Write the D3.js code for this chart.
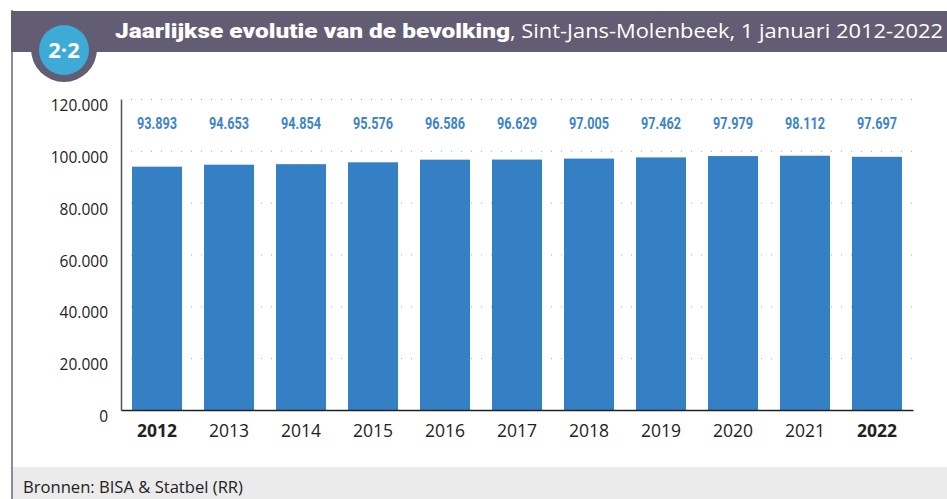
<!DOCTYPE html>
<html>
<head>
<meta charset="utf-8">
<script src="https://cdn.jsdelivr.net/npm/d3@7"></script>
<style>
  body { margin: 0; background: #fff; }
  svg { display: block; }
</style>
</head>
<body>
<div id="chart"></div>
<script>
// data
const years = ["2012","2013","2014","2015","2016","2017","2018","2019","2020","2021","2022"]
const population = [93893, 94653, 94854, 95576, 96586, 96629, 97005, 97462, 97979, 98112, 97697]
const boldYears = ["2012","2022"]
const yTicks = [0, 20000, 40000, 60000, 80000, 100000, 120000]

const W = 947, H = 499
const fmt = d3.format(",")
const nl = v => fmt(v).replace(/,/g, ".")

const svg = d3.select("#chart").append("svg")
  .attr("width", W).attr("height", H)

// footer band
svg.append("rect").attr("x", 12).attr("y", 467).attr("width", W - 12).attr("height", H - 467)
  .attr("fill", "#ebebeb")
svg.append("text").attr("x", 23).attr("y", 493)
  .attr("font-family", "Open Sans").attr("font-size", 16).attr("fill", "#222")
  .attr("textLength", 220).attr("lengthAdjust", "spacingAndGlyphs")
  .text("Bronnen: BISA & Statbel (RR)")

// left frame line
svg.append("line").attr("x1", 12).attr("x2", 12).attr("y1", 10).attr("y2", H)
  .attr("stroke", "#8e8a9a").attr("stroke-width", 2)

// title bar
svg.append("rect").attr("x", 11).attr("y", 11).attr("width", W - 11).attr("height", 41)
  .attr("fill", "#625d72")
svg.append("circle").attr("cx", 64).attr("cy", 49).attr("r", 33).attr("fill", "#625d72")
svg.append("circle").attr("cx", 64).attr("cy", 50).attr("r", 25).attr("fill", "#3eaad6")
svg.append("text").attr("x", 64).attr("y", 58).attr("text-anchor", "middle")
  .attr("font-family", "Open Sans").attr("font-weight", "bold").attr("font-size", 22)
  .attr("fill", "#fff").text("2·2")

const title = svg.append("text").attr("y", 38).attr("fill", "#fff")
title.append("tspan").attr("x", 115)
  .attr("font-family", "Roboto").attr("font-weight", "900").attr("font-size", 21)
  .attr("textLength", 395).attr("lengthAdjust", "spacingAndGlyphs")
  .text("Jaarlijkse evolutie van de bevolking")
title.append("tspan").attr("x", 510)
  .attr("font-family", "Open Sans").attr("font-size", 19.5)
  .attr("textLength", 433).attr("lengthAdjust", "spacingAndGlyphs")
  .text(", Sint-Jans-Molenbeek, 1 januari 2012-2022")

// scales
const x = d3.scaleBand().domain(years).range([121, 913])
  .paddingInner(0.305).paddingOuter(0.153)
const y = d3.scaleLinear().domain([0, 120000]).range([410, 99])

// dotted gridlines
svg.append("g").selectAll("line").data(yTicks.filter(d => d > 0)).enter().append("line")
  .attr("x1", 131).attr("x2", 913)
  .attr("y1", d => y(d) + 0.5).attr("y2", d => y(d) + 0.5)
  .attr("stroke", "#a9a9a9").attr("stroke-width", 1).attr("stroke-dasharray", "1,9")

// bars
svg.append("g").selectAll("rect").data(years).enter().append("rect")
  .attr("x", d => x(d)).attr("width", x.bandwidth())
  .attr("y", (d, i) => y(population[i]))
  .attr("height", (d, i) => y(0) - y(population[i]))
  .attr("fill", "#3580c4")

// value labels
svg.append("g").selectAll("text").data(years).enter().append("text")
  .attr("x", d => x(d) + x.bandwidth() / 2 - 20).attr("y", 129)
  .attr("font-family", "Roboto").attr("font-weight", "bold")
  .attr("font-size", 16).attr("fill", "#3d84c8")
  .attr("textLength", 40).attr("lengthAdjust", "spacingAndGlyphs")
  .text((d, i) => nl(population[i]))

// y axis
const yAxis = svg.append("g").attr("transform", "translate(121,0)")
  .call(d3.axisLeft(y).tickValues(yTicks).tickSize(0).tickPadding(13).tickFormat(nl))
yAxis.select(".domain").attr("stroke", "#555").attr("stroke-width", 1.5)
yAxis.selectAll("text").attr("font-family", "Open Sans").attr("font-size", 15.5)
  .attr("fill", "#222").attr("dy", "0.75em")

// x axis
const xAxis = svg.append("g").attr("transform", "translate(0,410)")
  .call(d3.axisBottom(x).tickSize(0).tickPadding(15))
xAxis.select(".domain").attr("stroke", "#222").attr("stroke-width", 1.5)
xAxis.selectAll("text").attr("font-family", "Open Sans").attr("font-size", 17.5)
  .attr("fill", "#222")
  .attr("font-weight", d => boldYears.includes(d) ? "bold" : "normal")
</script>
</body>
</html>
